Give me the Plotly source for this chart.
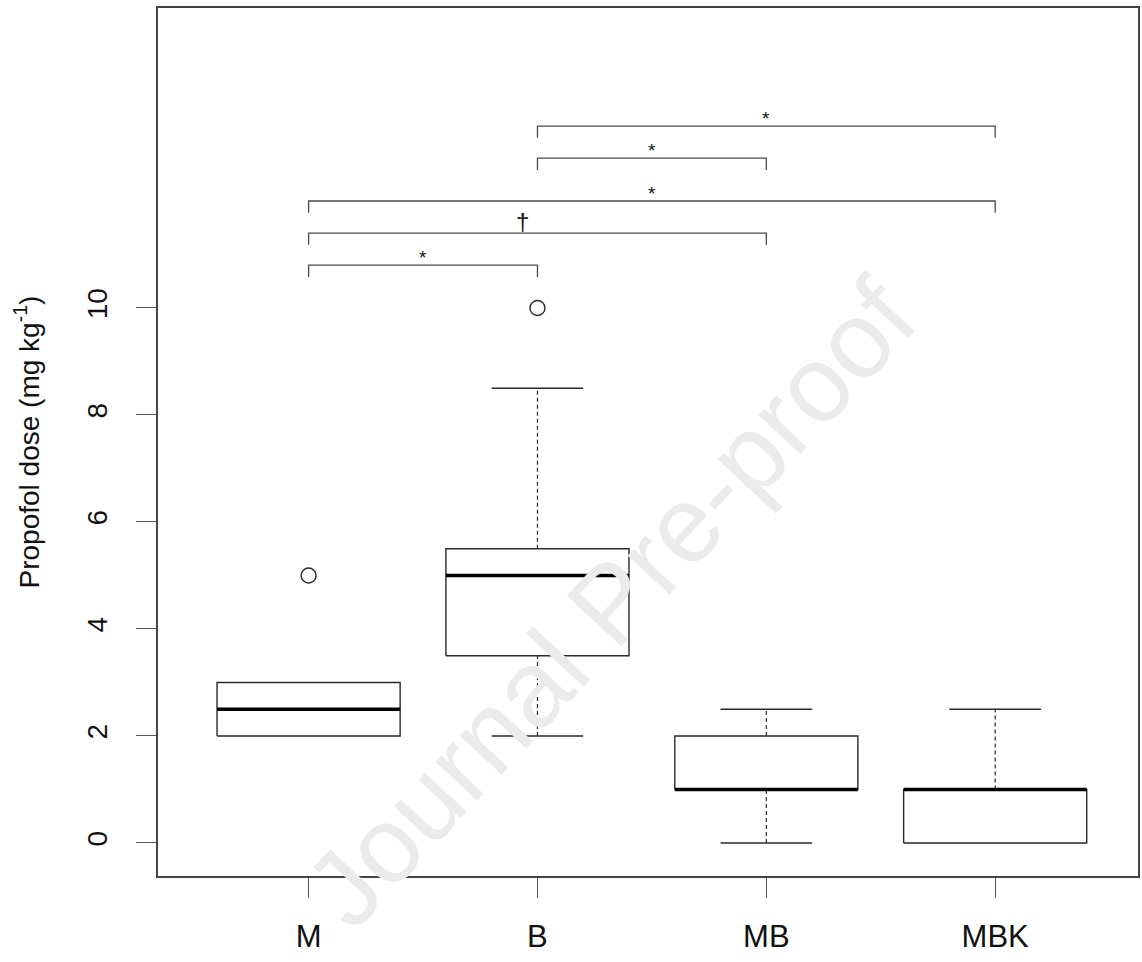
import plotly.graph_objects as go

# ---- data ----
groups = ["M", "B", "MB", "MBK"]
q1 = [2.0, 3.5, 1.0, 0.0]
median = [2.5, 5.0, 1.0, 1.0]
q3 = [3.0, 5.5, 2.0, 1.0]
lower_whisker = [2.0, 2.0, 0.0, 0.0]
upper_whisker = [3.0, 8.5, 2.5, 2.5]
outlier_group = ["M", "B"]
outlier_value = [5.0, 10.0]

# significance brackets: (from group, to group, height, label)
bracket_from = ["M", "M", "M", "B", "B"]
bracket_to = ["B", "MB", "MBK", "MB", "MBK"]
bracket_height = [10.8, 11.4, 12.0, 12.8, 13.4]
bracket_label = ["*", "†", "*", "*", "*"]

y_ticks = [0, 2, 4, 6, 8, 10]

# ---- styles ----
BOX_HALF = 0.4
CAP_HALF = 0.2
TICK_DROP = 0.22
LINE_COL = "#2a2a2a"
BRACKET_COL = "#4a4a4a"
FONT = "Liberation Sans, Arial, Helvetica, sans-serif"

pos = {g: i + 1 for i, g in enumerate(groups)}

fig = go.Figure()

for i, g in enumerate(groups):
    x = pos[g]
    # whiskers (dashed)
    for a, b in ((lower_whisker[i], q1[i]), (q3[i], upper_whisker[i])):
        if b > a:
            fig.add_trace(go.Scatter(x=[x, x], y=[a, b], mode="lines",
                                     line=dict(color=LINE_COL, width=1.2, dash="4px,3px"),
                                     hoverinfo="skip", showlegend=False))
    # caps
    for v, edge in ((lower_whisker[i], q1[i]), (upper_whisker[i], q3[i])):
        if v != edge:
            fig.add_trace(go.Scatter(x=[x - CAP_HALF, x + CAP_HALF], y=[v, v], mode="lines",
                                     line=dict(color=LINE_COL, width=1.3),
                                     hoverinfo="skip", showlegend=False))
    # box
    fig.add_trace(go.Scatter(
        x=[x - BOX_HALF, x + BOX_HALF, x + BOX_HALF, x - BOX_HALF, x - BOX_HALF],
        y=[q1[i], q1[i], q3[i], q3[i], q1[i]], mode="lines",
        line=dict(color=LINE_COL, width=1.4),
        hoverinfo="skip", showlegend=False))
    # median
    fig.add_trace(go.Scatter(x=[x - BOX_HALF, x + BOX_HALF], y=[median[i], median[i]],
                             mode="lines", line=dict(color="#000000", width=3.5),
                             hoverinfo="skip", showlegend=False))

# outliers
fig.add_trace(go.Scatter(x=[pos[g] for g in outlier_group], y=outlier_value, mode="markers",
                         marker=dict(symbol="circle-open", size=15, color=LINE_COL,
                                     line=dict(width=1.4)),
                         hoverinfo="skip", showlegend=False))

# brackets
annotations = []
for a, b, h, lab in zip(bracket_from, bracket_to, bracket_height, bracket_label):
    xa, xb = pos[a], pos[b]
    fig.add_trace(go.Scatter(x=[xa, xa, xb, xb], y=[h - TICK_DROP, h, h, h - TICK_DROP],
                             mode="lines", line=dict(color=BRACKET_COL, width=1.3),
                             hoverinfo="skip", showlegend=False))
    if lab == "*":
        annotations.append(dict(x=(xa + xb) / 2, y=h, text="*", showarrow=False,
                                xanchor="center", yanchor="bottom", yshift=-5,
                                font=dict(family=FONT, size=19, color="#111")))
    else:
        annotations.append(dict(x=(xa + xb) / 2 - 0.065, y=h, text=lab, showarrow=False,
                                xanchor="center", yanchor="bottom", yshift=-4,
                                font=dict(family=FONT, size=24, color="#111")))

# watermark
annotations.append(dict(x=0.462, y=0.315, xref="paper", yref="paper", text="Journal Pre-proof",
                        showarrow=False, textangle=-47, xanchor="center", yanchor="middle",
                        font=dict(family=FONT, size=108, color="#ebebeb")))

fig.update_layout(
    width=1142, height=962,
    margin=dict(l=158, r=2, t=8, b=86),
    paper_bgcolor="white", plot_bgcolor="white",
    font=dict(family=FONT, color="#111"),
    annotations=annotations,
    showlegend=False,
)
fig.update_xaxes(
    range=[0.342, 4.624], tickmode="array", tickvals=[pos[g] for g in groups], ticktext=groups,
    ticks="outside", ticklen=20, tickcolor="#555", tickwidth=1,
    tickfont=dict(size=31, family=FONT, color="#111"), ticklabelstandoff=12,
    showline=True, mirror=True, linecolor="#444", linewidth=1.5,
    showgrid=False, zeroline=False,
)
fig.update_yaxes(
    range=[-0.617, 15.607], tickmode="array", tickvals=y_ticks,
    ticks="outside", ticklen=20, tickcolor="#555", tickwidth=1,
    tickangle=-90, tickfont=dict(size=28, family=FONT, color="#111"), ticklabelstandoff=18,
    title=dict(text="Propofol dose (mg kg<sup>-1</sup>)", font=dict(size=28, family=FONT, color="#111"),
               standoff=34),
    showline=True, mirror=True, linecolor="#444", linewidth=1.5,
    showgrid=False, zeroline=False,
)

fig.write_html("out.html", config={"displayModeBar": False},
               post_script="document.body.style.margin='0';")
